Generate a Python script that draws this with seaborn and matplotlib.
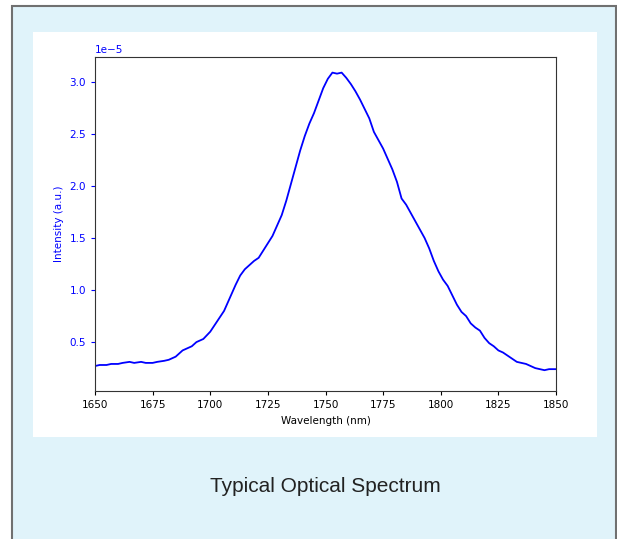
import matplotlib
matplotlib.use('Agg')
import matplotlib.pyplot as plt
from matplotlib.patches import Rectangle
import pandas
import seaborn as sns

# wavelength (nm) and intensity (x 1e-5, a.u.)
comprimento_onda = [1650, 1652, 1655, 1657, 1660, 1662, 1665, 1667, 1670, 1672,
                    1675, 1677, 1680, 1682, 1685, 1688, 1690, 1692, 1694, 1697,
                    1700, 1703, 1706, 1709, 1711, 1713, 1715, 1717, 1719, 1721,
                    1723, 1725, 1727, 1729, 1731, 1733, 1735, 1737, 1739, 1741,
                    1743, 1745, 1747, 1749, 1751, 1753, 1755, 1757, 1759, 1761,
                    1763, 1765, 1767, 1769, 1771, 1773, 1775, 1777, 1779, 1781,
                    1783, 1785, 1787, 1789, 1791, 1793, 1795, 1797, 1799, 1801,
                    1803, 1805, 1807, 1809, 1811, 1813, 1815, 1817, 1819, 1821,
                    1823, 1825, 1827, 1829, 1831, 1833, 1835, 1837, 1839, 1841,
                    1843, 1845, 1847, 1850]
intensidade = [0.27, 0.28, 0.28, 0.29, 0.29, 0.30, 0.31, 0.30, 0.31, 0.30,
               0.30, 0.31, 0.32, 0.33, 0.36, 0.42, 0.44, 0.46, 0.50, 0.53,
               0.60, 0.70, 0.80, 0.95, 1.05, 1.14, 1.20, 1.24, 1.28, 1.31,
               1.38, 1.45, 1.52, 1.62, 1.72, 1.86, 2.02, 2.18, 2.34, 2.48,
               2.60, 2.70, 2.82, 2.94, 3.03, 3.09, 3.08, 3.09, 3.04, 2.98,
               2.91, 2.83, 2.74, 2.65, 2.52, 2.44, 2.36, 2.26, 2.16, 2.04,
               1.88, 1.82, 1.74, 1.66, 1.58, 1.50, 1.40, 1.28, 1.18, 1.10,
               1.04, 0.95, 0.86, 0.79, 0.75, 0.68, 0.64, 0.61, 0.54, 0.49,
               0.46, 0.42, 0.40, 0.37, 0.34, 0.31, 0.30, 0.29, 0.27, 0.25,
               0.24, 0.23, 0.24, 0.24]

df = pandas.DataFrame({'comprimento': comprimento_onda,
                       'intensidade': [v * 1e-5 for v in intensidade]})

fig = plt.figure(figsize=(6.17, 5.39), dpi=100)
fig.patch.set_facecolor('white')

# moldura azul clara e painel branco (atras dos eixos)
fig.patches.append(Rectangle((12 / 617, -0.05), 604 / 617, 1 - 6 / 539 + 0.05,
                             transform=fig.transFigure, facecolor='#e0f3fa',
                             edgecolor='#707070', linewidth=1.5, zorder=-2))
fig.patches.append(Rectangle((33 / 617, 1 - 437 / 539), 564 / 617, 405 / 539,
                             transform=fig.transFigure, facecolor='white',
                             edgecolor='none', zorder=-1))

ax = fig.add_axes([95 / 617, 1 - 391 / 539, 461 / 617, 334 / 539])
ax.set_zorder(2)
sns.lineplot(data=df, x='comprimento', y='intensidade', color='blue', linewidth=1.3, ax=ax)

ax.set_xlim(1650, 1850)
ax.set_ylim(0.03e-5, 3.24e-5)
ax.set_xticks([1650, 1675, 1700, 1725, 1750, 1775, 1800, 1825, 1850])
ax.set_xlabel('Wavelength (nm)', fontsize=7.5)
ax.set_ylabel('Intensity (a.u.)', fontsize=7.5, color='blue')
ax.tick_params(axis='x', labelsize=7.5, length=3)
ax.tick_params(axis='y', labelsize=7.5, length=3, colors='blue')
ax.yaxis.get_offset_text().set_fontsize(7.5)
ax.yaxis.get_offset_text().set_color('blue')
for spine in ax.spines.values():
    spine.set_color('#333333')
    spine.set_linewidth(0.8)

fig.text(325 / 617, 1 - 486 / 539, 'Typical Optical Spectrum', ha='center', va='center',
         fontsize=15, color='#222222', family=['Liberation Sans', 'DejaVu Sans'])

fig.savefig('out.png', dpi=100)
